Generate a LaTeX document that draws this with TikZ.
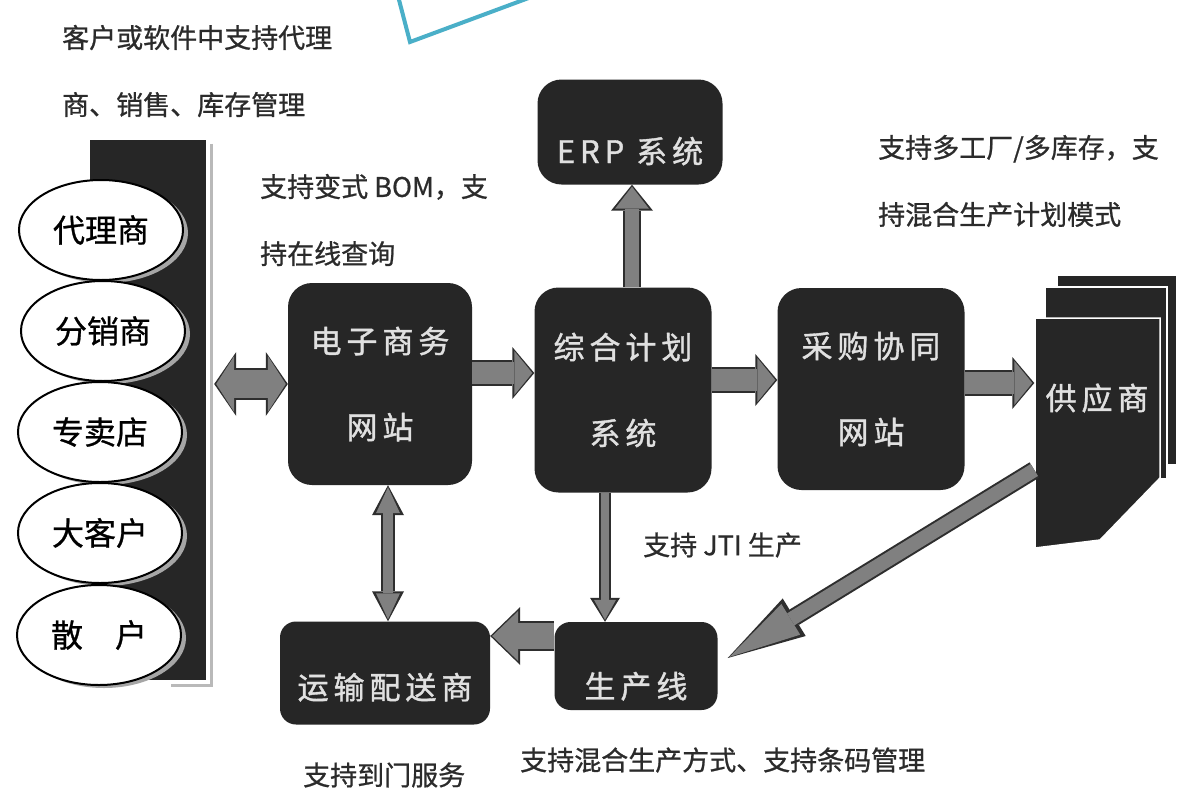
\documentclass[tikz,border=0pt]{standalone}
\usepackage{fontspec}
\usepackage{tikz}
\usetikzlibrary{arrows.meta,shapes.geometric,shadows}
\newfontfamily\cjk[FakeBold=0.8]{Noto Sans CJK SC}
\newfontfamily\cjkbox[LetterSpace=16,FakeBold=1.2]{Noto Sans CJK SC}
\definecolor{boxfill}{HTML}{262626}
\definecolor{arrgray}{HTML}{808080}
\definecolor{arrline}{HTML}{2E2E2E}
\definecolor{txtgray}{HTML}{2B2B2B}
\definecolor{frame}{HTML}{4AAFC8}

\begin{document}
\begin{tikzpicture}[x=1pt,y=-1pt,every node/.style={inner sep=0pt},
  darkbox/.style={rectangle,rounded corners=24pt,fill=boxfill,text=white!88!black,align=center,font=\cjkbox\fontsize{31}{86}\selectfont},
  party/.style={ellipse,draw=black,line width=2pt,fill=white,minimum width=164pt,minimum height=100pt,font=\cjk\fontsize{32}{36}\selectfont,drop shadow={shadow xshift=5pt,shadow yshift=-3pt,fill=gray!70,opacity=1}},
  note/.style={anchor=west,align=left,text=txtgray,font=\cjk\fontsize{27}{67}\selectfont},
  card/.style={rectangle,fill=boxfill,draw=white,line width=1.5pt},
  one/.style n args={6}{draw=arrgray,line width=#1,shorten >=2pt,-{Triangle[width=#2,length=#3,line width=0pt]},
    preaction={draw=arrline,line width=#4,shorten >=0pt,-{Triangle[width=#5,length=#6,line width=0pt]}}},
  two/.style n args={6}{draw=arrgray,line width=#1,shorten >=2pt,shorten <=2pt,{Triangle[width=#2,length=#3,line width=0pt]}-{Triangle[width=#2,length=#3,line width=0pt]},
    preaction={draw=arrline,line width=#4,shorten >=0pt,shorten <=0pt,{Triangle[width=#5,length=#6,line width=0pt]}-{Triangle[width=#5,length=#6,line width=0pt]}}},
  harr/.style={one={22pt}{44pt}{18pt}{26pt}{52pt}{22pt}},
  varr/.style={one={14pt}{34pt}{22pt}{18pt}{42pt}{26pt}},
  thin/.style={one={8pt}{22pt}{20pt}{12pt}{30pt}{24pt}},
  thinboth/.style={two={10pt}{24pt}{26pt}{14pt}{32pt}{30pt}},
  sideboth/.style={two={28pt}{56pt}{18pt}{32pt}{64pt}{22pt}},
  diag/.style={one={14pt}{36pt}{72pt}{18pt}{44pt}{78pt}}
]
\fill[white] (0,0) rectangle (1181,801);
\useasboundingbox (0,0) rectangle (1181,801);
\draw[frame,line width=4pt,line join=miter] (398,-4) -- (410,42) -- (534,-4);

% customers
\node[rectangle,fill=boxfill,minimum width=116pt,minimum height=540pt] (bar) at (148,410) {};
\draw[gray!55,line width=3pt] ([xshift=5pt,yshift=-4pt]bar.north east) |- ([xshift=-35pt,yshift=-5pt]bar.south east);
\node[party] (agent) at (101,230) {代理商};
\node[party] (dist) at (103,331) {分销商};
\node[party] (shop) at (100,432) {专卖店};
\node[party] (big) at (100,533) {大客户};
\node[party] (retail) at (99,635) {散　户};

% systems
\node[darkbox,minimum width=184pt,minimum height=202pt] (ec) at (380,384) {电子商务\\网站};
\node[darkbox,minimum width=177pt,minimum height=205pt] (plan) at (623,390) {综合计划\\系统};
\node[darkbox,minimum width=185pt,minimum height=105pt,text height=66pt,text depth=4pt] (erp) at (630,132) {ERP 系统};
\node[darkbox,minimum width=187pt,minimum height=202pt] (purch) at (871,389) {采购协同\\网站};
\node[darkbox,minimum width=163pt,minimum height=88pt,rounded corners=16pt,text height=68pt,text depth=4pt] (line) at (636,666) {生产线};
\node[darkbox,minimum width=210pt,minimum height=103pt,rounded corners=16pt,text height=56pt,text depth=4pt] (ship) at (385,673) {运输配送商};

% suppliers
\node[card,minimum width=120pt,minimum height=190pt] (supp3) at (1117,370) {};
\node[card,minimum width=122pt,minimum height=192pt] (supp2) at (1106,383) {};
\fill[boxfill,draw=white,line width=1.5pt] (1035,318) -- (1160,318) -- (1160,478) -- (1100,540) -- (1035,548) -- cycle;
\node[minimum width=125pt,minimum height=160pt,text=white!88!black,font=\cjkbox\fontsize{31}{36}\selectfont] (supp) at (1097,398) {供应商};

% flows
\draw[sideboth] ([xshift=8pt]bar.east |- ec.west) -- (ec.west);
\draw[harr] (ec.east |- 0,373) -- (plan.west |- 0,373);
\draw[harr] (plan.east |- 0,380) -- (purch.west |- 0,380);
\draw[harr] (purch.east |- 0,383) -- (supp.west |- 0,383);
\draw[varr] (plan.north -| 632,0) -- (erp.south -| 632,0);
\draw[thin] (plan.south -| 605,0) -- (line.north -| 605,0);
\draw[one={26pt}{50pt}{26pt}{30pt}{58pt}{30pt}] (line.west |- 0,636) -- (ship.east |- 0,636);
\draw[thinboth] (ec.south -| 388,0) -- (ship.north -| 388,0);
\draw[diag] ([yshift=-72pt]supp.west) -- ([xshift=10pt,yshift=8pt]line.east);

% notes
\node[note] (noteparty) at (62,71) {客户或软件中支持代理\\商、销售、库存管理};
\node[note] (notebom) at (260,220) {支持变式 BOM，支\\持在线查询};
\node[note] (notemrp) at (878,181) {支持多工厂/多库存，支\\持混合生产计划模式};
\node[note] (notejit) at (643,545) {支持 JTI 生产};
\node[note] (notedoor) at (303,775) {支持到门服务};
\node[note] (notemix) at (520,760) {支持混合生产方式、支持条码管理};
\end{tikzpicture}
\end{document}
